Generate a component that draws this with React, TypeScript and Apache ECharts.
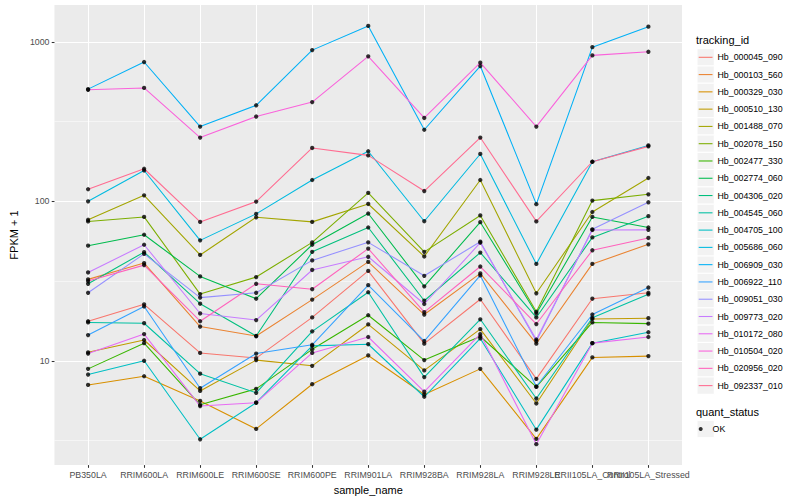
import React, { useEffect, useRef } from "react";
import * as echarts from "echarts";

const sampleNames = [
  "PB350LA", "RRIM600LA", "RRIM600LE", "RRIM600SE", "RRIM600PE", "RRIM901LA",
  "RRIM928BA", "RRIM928LA", "RRIM928LE", "RRII105LA_Control", "RRII105LA_Stressed",
];

const trackingIds = [
  "Hb_000045_090", "Hb_000103_560", "Hb_000329_030", "Hb_000510_130", "Hb_001488_070",
  "Hb_002078_150", "Hb_002477_330", "Hb_002774_060", "Hb_004306_020", "Hb_004545_060",
  "Hb_004705_100", "Hb_005686_060", "Hb_006909_030", "Hb_006922_110", "Hb_009051_030",
  "Hb_009773_020", "Hb_010172_080", "Hb_010504_020", "Hb_020956_020", "Hb_092337_010",
];

const trackingColors = [
  "#F8766D", "#EA8331", "#D89000", "#C09B00", "#A3A500", "#7CAE00", "#39B600", "#00BB4E",
  "#00BF7D", "#00C1A3", "#00BFC4", "#00BAE0", "#00B0F6", "#35A2FF", "#9590FF", "#C77CFF",
  "#E76BF3", "#FA62DB", "#FF62BC", "#FF6C91",
];

// FPKM + 1 per sample (same order as sampleNames)
const hb000045_090 = [17.7, 22.6, 11.2, 10.4, 18.7, 36.6, 12.8, 24.3, 7.7, 24.5, 26.7];
const hb000103_560 = [32.4, 41, 16.4, 14.3, 24.2, 41.7, 19.5, 35.3, 12.8, 40.5, 53.7];
const hb000329_030 = [7.06, 8.0, 5.6, 3.74, 7.13, 10.8, 6.15, 8.9, 3.24, 10.5, 10.7];
const hb000510_130 = [11.3, 13.5, 6.47, 10.1, 9.3, 16.9, 8.7, 15.8, 5.4, 18.3, 18.5];
const hb001488_070 = [76.6, 109, 46.1, 79.4, 74.3, 96.2, 45.1, 136, 26.5, 85.7, 140];
const hb002078_150 = [74.8, 79.8, 26.2, 33.5, 55.3, 113, 48.2, 81.5, 20.3, 101, 110.6];
const hb002477_330 = [8.9, 12.9, 5.3, 6.67, 11.8, 19.3, 10.1, 14.2, 6.86, 17.4, 17.1];
const hb002774_060 = [52.7, 61.7, 33.8, 24.5, 53.4, 83.8, 29.3, 74, 19.8, 79.8, 68.5];
const hb004306_020 = [30.4, 48, 22.8, 14.3, 48.2, 68.5, 23.8, 47.7, 18.7, 59.4, 80.7];
const hb004545_060 = [17.4, 17.2, 8.3, 6.3, 15.3, 26.9, 7.9, 18.2, 5.8, 18.6, 26.1];
const hb004705_100 = [8.2, 10, 3.22, 5.46, 12.4, 12.7, 5.95, 13.8, 3.7, 12.9, 15.1];
const hb005686_060 = [100, 156, 56.9, 83.4, 136, 206, 75, 198, 40.5, 177, 224];
const hb006909_030 = [505, 747, 294, 400, 887, 1258, 281, 705, 96, 926, 1245];
const hb006922_110 = [14.5, 21.9, 6.73, 11.1, 12.6, 29.8, 13.3, 34.3, 6.9, 19.5, 28.8];
const hb009051_030 = [26.7, 46.8, 24.9, 26.7, 42.6, 55.3, 34.1, 55.8, 13.3, 66.7, 98.6];
const hb009773_020 = [35.8, 53.4, 19.8, 18.0, 37.1, 44.9, 22.7, 55, 13.6, 66.1, 66.2];
const hb010172_080 = [11.1, 14.7, 5.2, 5.46, 11.2, 14.1, 6.4, 14.7, 3.0, 12.9, 14.1];
const hb010504_020 = [500, 514, 251, 340, 419, 811, 333, 740, 294, 822, 866];
const hb020956_020 = [31.6, 39.8, 17.7, 30.4, 28.1, 50.5, 20.2, 39, 17.0, 49.3, 58.9];
const hb092337_010 = [119, 160, 74.3, 99.6, 216, 194, 116, 251, 74.8, 177, 221];

const seriesValues = [
  hb000045_090, hb000103_560, hb000329_030, hb000510_130, hb001488_070,
  hb002078_150, hb002477_330, hb002774_060, hb004306_020, hb004545_060,
  hb004705_100, hb005686_060, hb006909_030, hb006922_110, hb009051_030,
  hb009773_020, hb010172_080, hb010504_020, hb020956_020, hb092337_010,
];

const yTickValues = [10, 100, 1000];
const yMinorTickValues = [Math.sqrt(10), Math.sqrt(1000), Math.sqrt(100000)];
const quantStatus = ["OK"];

const FONT = "'Liberation Sans', Arial, Helvetica, sans-serif";

export default function App() {
  const ref = useRef<HTMLDivElement>(null);

  useEffect(() => {
    if (!ref.current) return;
    const chart = echarts.init(ref.current, undefined, { renderer: "svg" });

    const logs = seriesValues.flat().map((v) => Math.log10(v));
    const lo = Math.min(...logs);
    const hi = Math.max(...logs);
    const pad = (hi - lo) * 0.05;
    const yMin = lo - pad;
    const yMax = hi + pad;
    const xPositions = sampleNames.map((_, i) => i + 1);
    const oddPositions = xPositions.filter((p) => p % 2 === 1);
    const evenPositions = xPositions.filter((p) => p % 2 === 0);
    const xMin = 1 - 0.6;
    const xMax = sampleNames.length + 0.6;

    const lineSeries = trackingIds.map((id, i) => ({
      type: "line",
      name: id,
      data: seriesValues[i].map((v, j) => [j + 1, Math.log10(v)]),
      showSymbol: false,
      symbol: "none",
      silent: true,
      lineStyle: { color: trackingColors[i], width: 1.07 },
      itemStyle: { color: trackingColors[i] },
      z: 2,
    }));

    const pointData: number[][] = [];
    seriesValues.forEach((vals) => vals.forEach((v, j) => pointData.push([j + 1, Math.log10(v)])));

    const keyPitch = 17.28;
    const firstKeyCenter = 57.3;
    const okKeyCenter = 429;
    const keyLeft = 697;

    const keyRects: any[] = trackingIds.map((_, i) => ({
      type: "rect",
      z: 1,
      shape: { x: keyLeft, y: firstKeyCenter - keyPitch / 2 + i * keyPitch, width: keyPitch, height: keyPitch },
      style: { fill: "#F2F2F2", stroke: "#FFFFFF", lineWidth: 1 },
      silent: true,
    }));
    keyRects.push({
      type: "rect",
      z: 1,
      shape: { x: keyLeft, y: okKeyCenter - keyPitch / 2, width: keyPitch, height: keyPitch },
      style: { fill: "#F2F2F2", stroke: "#FFFFFF", lineWidth: 1 },
      silent: true,
    });

    const xLabelStyle = {
      formatter: (v: number) => sampleNames[Math.round(v) - 1] ?? "",
      fontFamily: FONT,
      fontSize: 8.8,
      color: "#4D4D4D",
      margin: 5,
      hideOverlap: false,
      showMinLabel: true,
      showMaxLabel: true,
    };

    const option: any = {
      animation: false,
      grid: {
        left: 45,
        right: 118,
        top: 5,
        bottom: 31,
        show: true,
        backgroundColor: "#EBEBEB",
        borderWidth: 0,
      },
      xAxis: [
        {
          type: "value",
          min: xMin,
          max: xMax,
          position: "bottom",
          name: "sample_name",
          nameLocation: "middle",
          nameGap: 16,
          nameTextStyle: { fontFamily: FONT, fontSize: 11, color: "#000000" },
          axisLine: { show: false },
          axisTick: {
            show: true,
            customValues: xPositions,
            length: 2.75,
            lineStyle: { color: "#333333", width: 1.07 },
          },
          axisLabel: { ...xLabelStyle, customValues: oddPositions },
          splitLine: { show: true, lineStyle: { color: "#FFFFFF", width: 1.07 } },
        },
        {
          type: "value",
          min: xMin,
          max: xMax,
          position: "bottom",
          offset: 0,
          axisLine: { show: false },
          axisTick: { show: false, customValues: evenPositions },
          axisLabel: { ...xLabelStyle, customValues: evenPositions },
          splitLine: { show: false },
        },
      ],
      yAxis: [
        {
          type: "value",
          min: yMin,
          max: yMax,
          name: "FPKM + 1",
          nameLocation: "middle",
          nameGap: 27,
          nameTextStyle: { fontFamily: FONT, fontSize: 11, color: "#000000" },
          axisLine: { show: false },
          axisTick: {
            show: true,
            customValues: yTickValues.map((v) => Math.log10(v)),
            length: 2.75,
            lineStyle: { color: "#333333", width: 1.07 },
          },
          axisLabel: {
            customValues: yTickValues.map((v) => Math.log10(v)),
            formatter: (v: number) => String(Math.round(Math.pow(10, v))),
            fontFamily: FONT,
            fontSize: 8.8,
            color: "#4D4D4D",
            margin: 5,
          },
          splitLine: { show: true, lineStyle: { color: "#FFFFFF", width: 1.07 } },
          z: 1,
        },
        {
          type: "value",
          min: yMin,
          max: yMax,
          position: "left",
          axisLine: { show: false },
          axisLabel: { show: false },
          axisTick: {
            show: false,
            customValues: yMinorTickValues.map((v) => Math.log10(v)),
          },
          splitLine: { show: true, lineStyle: { color: "#FFFFFF", width: 0.53 } },
          z: 0,
        },
      ],
      legend: [
        {
          data: trackingIds,
          orient: "vertical",
          left: 698.7,
          top: firstKeyCenter - 6,
          padding: 0,
          itemGap: keyPitch - 12,
          itemWidth: 13.8,
          itemHeight: 1.07,
          icon: "rect",
          selectedMode: false,
          textStyle: { fontFamily: FONT, fontSize: 8.8, color: "#000000", lineHeight: 12 },
        },
        {
          data: quantStatus,
          orient: "vertical",
          left: 698.7,
          top: okKeyCenter - 6,
          padding: 0,
          itemWidth: 13.8,
          itemHeight: 4,
          icon: "circle",
          selectedMode: false,
          textStyle: { fontFamily: FONT, fontSize: 8.8, color: "#000000", lineHeight: 12 },
        },
      ],
      graphic: [
        ...keyRects,
        {
          type: "text",
          z: 5,
          x: 696,
          y: 40,
          style: { text: "tracking_id", font: `11px ${FONT}`, fill: "#000000", verticalAlign: "middle" },
        },
        {
          type: "text",
          z: 5,
          x: 696,
          y: 411.7,
          style: { text: "quant_status", font: `11px ${FONT}`, fill: "#000000", verticalAlign: "middle" },
        },
      ],
      series: [
        ...lineSeries,
        {
          type: "scatter",
          name: quantStatus[0],
          data: pointData,
          symbol: "circle",
          symbolSize: 4.3,
          silent: true,
          itemStyle: { color: "#000000" },
          z: 3,
        },
      ],
    };

    chart.setOption(option);
    return () => chart.dispose();
  }, []);

  return (
    <div
      ref={ref}
      style={{ position: "fixed", left: 0, top: 0, width: 800, height: 500, background: "#FFFFFF" }}
    />
  );
}
